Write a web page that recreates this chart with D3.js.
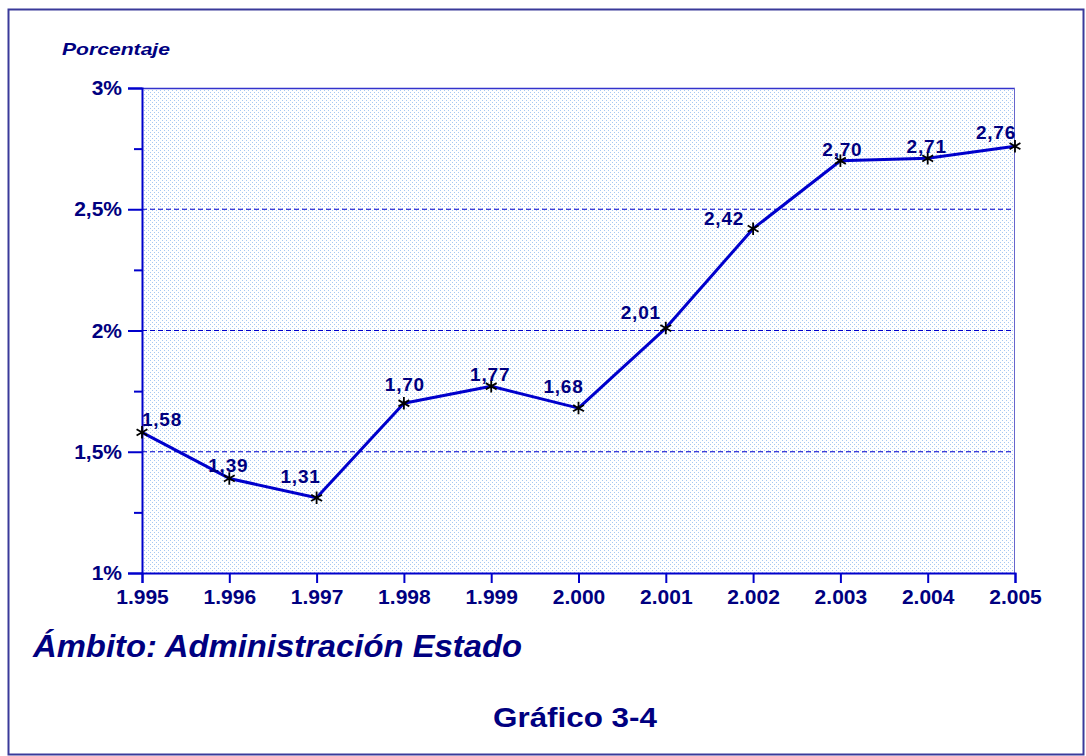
<!DOCTYPE html>
<html>
<head>
<meta charset="utf-8">
<script src="https://cdn.jsdelivr.net/npm/d3@7"></script>
<style>
  html, body { margin: 0; padding: 0; background: #fff; }
  text { font-family: "Liberation Sans", Arial, sans-serif; }
</style>
</head>
<body>
<div id="chart"></div>
<script>
// data
const years = ["1.995", "1.996", "1.997", "1.998", "1.999", "2.000", "2.001", "2.002", "2.003", "2.004", "2.005"];
const values = [1.58, 1.39, 1.31, 1.70, 1.77, 1.68, 2.01, 2.42, 2.70, 2.71, 2.76];
const valueLabels = ["1,58", "1,39", "1,31", "1,70", "1,77", "1,68", "2,01", "2,42", "2,70", "2,71", "2,76"];
const yTicks = [1, 1.5, 2, 2.5, 3];
const yTickLabels = ["1%", "1,5%", "2%", "2,5%", "3%"];
const yMinorTicks = [1.25, 1.75, 2.25, 2.75];
const gridValues = [1.5, 2, 2.5];

// label nudges (layout only)
const labelDx = [20, -1, -16, 1, -1, -15, -25, -29, 2, -1, -19];
const labelDy = [-6, -6, -15, -12, -5, -15, -9, -4, -5, -5, -7];

const W = 1086, H = 756;
const margin = { top: 88, right: 71, bottom: 183, left: 142 };
const width = W - margin.left - margin.right;
const height = H - margin.top - margin.bottom;
const navy = "#000080";
const blue = "#0000cc";

const svg = d3.select("#chart").append("svg")
  .attr("width", W)
  .attr("height", H);

// dotted plot fill
const defs = svg.append("defs");
const pat = defs.append("pattern")
  .attr("id", "dots")
  .attr("width", 4).attr("height", 4)
  .attr("patternUnits", "userSpaceOnUse");
pat.append("rect").attr("width", 4).attr("height", 4).attr("fill", "#fff");
pat.append("rect").attr("x", 0).attr("y", 0).attr("width", 1).attr("height", 1).attr("fill", "#a6c8f2");
pat.append("rect").attr("x", 2).attr("y", 2).attr("width", 1).attr("height", 1).attr("fill", "#a6c8f2");

// outer frame
svg.append("rect")
  .attr("x", 8.5).attr("y", 9.5)
  .attr("width", 1075).attr("height", 745)
  .attr("fill", "none")
  .attr("stroke", "#3a3a9a")
  .attr("stroke-width", 2);

const g = svg.append("g")
  .attr("transform", "translate(" + margin.left + "," + margin.top + ")");

const x = d3.scalePoint()
  .domain(years)
  .range([0, width]);
const y = d3.scaleLinear()
  .domain([1, 3])
  .range([height, 0]);

g.append("rect")
  .attr("width", width).attr("height", height)
  .attr("fill", "url(#dots)");

// dashed gridlines
g.selectAll(".grid")
  .data(gridValues)
  .enter().append("line")
  .attr("class", "grid")
  .attr("x1", 0).attr("x2", width)
  .attr("y1", d => y(d)).attr("y2", d => y(d))
  .attr("stroke", blue)
  .attr("stroke-width", 1.2)
  .attr("stroke-dasharray", "5,3");

// plot frame top/right
g.append("line").attr("x1", 0).attr("x2", width).attr("y1", 0.5).attr("y2", 0.5)
  .attr("stroke", "#3333cc").attr("stroke-width", 1.5);
g.append("line").attr("x1", width - 0.5).attr("x2", width - 0.5).attr("y1", 0).attr("y2", height)
  .attr("stroke", "#6666cc").attr("stroke-width", 1);

// y axis
const yAxis = g.append("g")
  .call(d3.axisLeft(y).tickValues(yTicks).tickSize(14).tickPadding(6)
    .tickFormat((d, i) => yTickLabels[i]));
yAxis.selectAll(".tick text")
  .attr("fill", navy)
  .attr("font-size", 21)
  .attr("font-weight", "bold")
  .attr("font-family", "Liberation Sans, Arial, sans-serif");

g.append("g")
  .call(d3.axisLeft(y).tickValues(yMinorTicks).tickSize(8).tickFormat(""))
  .call(s => s.select(".domain").remove());

// x axis
const xAxis = g.append("g")
  .attr("transform", "translate(0," + height + ")")
  .call(d3.axisBottom(x).tickSize(10).tickPadding(6));
xAxis.selectAll(".tick text")
  .attr("fill", navy)
  .attr("font-size", 21)
  .attr("font-weight", "bold")
  .attr("font-family", "Liberation Sans, Arial, sans-serif");

g.selectAll(".domain, .tick line")
  .attr("stroke", blue)
  .attr("stroke-width", 2);

// series line
const line = d3.line()
  .x((d, i) => x(years[i]))
  .y(d => y(d));

g.append("path")
  .datum(values)
  .attr("d", line)
  .attr("fill", "none")
  .attr("stroke", blue)
  .attr("stroke-width", 3)
  .attr("stroke-linejoin", "round");

// star markers
g.selectAll(".mark")
  .data(values)
  .enter().append("path")
  .attr("class", "mark")
  .attr("transform", (d, i) => "translate(" + x(years[i]) + "," + y(d) + ")")
  .attr("d", d3.symbol(d3.symbolAsterisk, 110))
  .attr("fill", "none")
  .attr("stroke", "#000")
  .attr("stroke-width", 1.8);

// value labels
g.selectAll(".val")
  .data(values)
  .enter().append("text")
  .attr("class", "val")
  .attr("x", (d, i) => x(years[i]) + labelDx[i])
  .attr("y", (d, i) => y(d) + labelDy[i])
  .attr("text-anchor", "middle")
  .attr("fill", navy)
  .attr("font-size", 19)
  .attr("font-weight", "bold")
  .attr("letter-spacing", 0.8)
  .text((d, i) => valueLabels[i]);

// texts
svg.append("text")
  .attr("x", 62).attr("y", 55)
  .attr("fill", navy)
  .attr("font-size", 17)
  .attr("font-weight", "bold")
  .attr("font-style", "italic")
  .attr("textLength", 108)
  .attr("lengthAdjust", "spacingAndGlyphs")
  .text("Porcentaje");

svg.append("text")
  .attr("x", 33).attr("y", 657)
  .attr("fill", navy)
  .attr("font-size", 31)
  .attr("font-weight", "bold")
  .attr("font-style", "italic")
  .attr("textLength", 489)
  .attr("lengthAdjust", "spacingAndGlyphs")
  .text("Ámbito: Administración Estado");

svg.append("text")
  .attr("x", 493).attr("y", 727)
  .attr("fill", navy)
  .attr("font-size", 28)
  .attr("font-weight", "bold")
  .attr("textLength", 164)
  .attr("lengthAdjust", "spacingAndGlyphs")
  .text("Gráfico 3-4");
</script>
</body>
</html>
